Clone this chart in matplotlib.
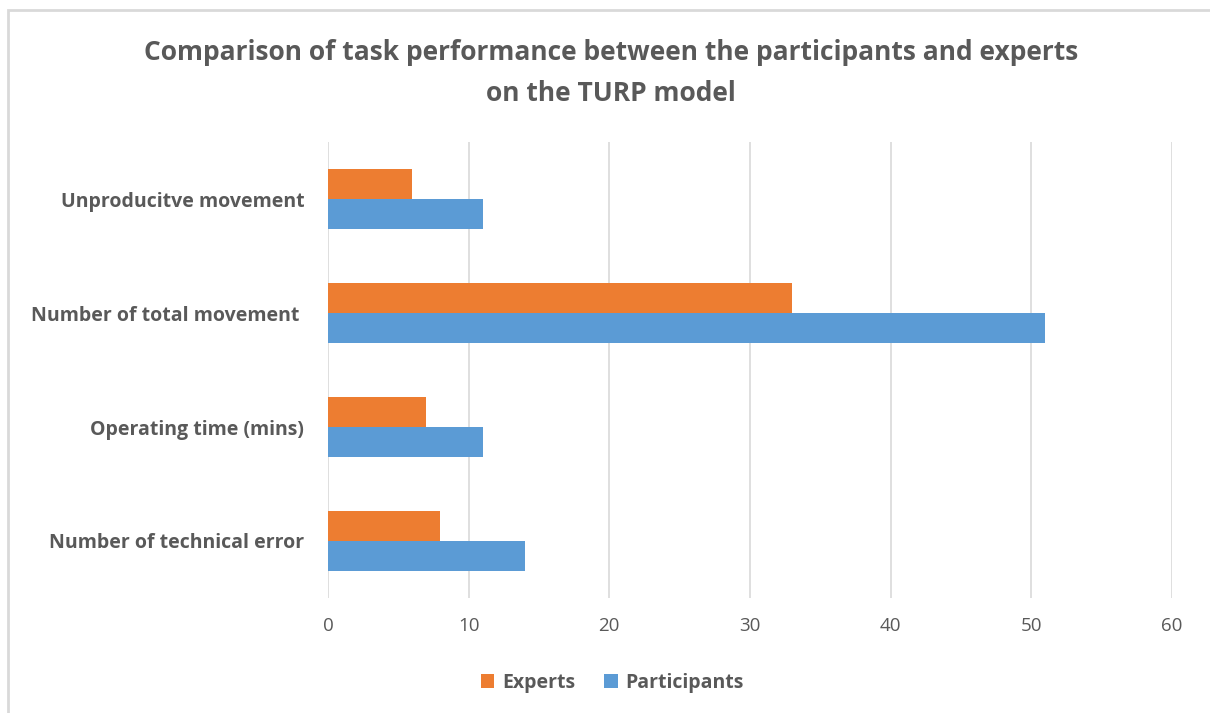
import numpy as np
import matplotlib.pyplot as plt
from matplotlib.patches import Rectangle

# data, bottom to top as drawn
categories = ["Number of technical error", "Operating time (mins)",
              "Number of total movement ", "Unproducitve movement"]
experts = [8, 7, 33, 6]
participants = [14, 11, 51, 11]

orange = "#ED7D31"
blue = "#5B9BD5"
grey = "#595959"

plt.rcParams['font.family'] = ['Open Sans', 'DejaVu Sans']

fig = plt.figure(figsize=(12.1, 7.13), dpi=100)
ax = fig.add_axes([0.271, 0.1613, 0.6976, 0.6395])

y = np.arange(len(categories))
h = 0.26
ax.barh(y + h / 2, experts, height=h, color=orange, label="Experts", zorder=3)
ax.barh(y - h / 2, participants, height=h, color=blue, label="Participants", zorder=3)

ax.set_xlim(0, 60)
ax.set_ylim(-0.5, len(categories) - 0.5)
ax.set_xticks(range(0, 61, 10))
ax.set_yticks(y)
ax.set_yticklabels(categories, fontsize=14, fontweight="bold", color=grey)
ax.tick_params(axis="x", labelsize=13.5, colors=grey, length=0, pad=14)
ax.tick_params(axis="y", length=0, pad=17)
ax.grid(axis="x", color="#D9D9D9", lw=1.2, zorder=0)
for s in ax.spines.values():
    s.set_visible(False)

fig.suptitle("Comparison of task performance between the participants and experts\non the TURP model",
             x=0.505, y=0.945, fontsize=19, fontweight="bold", color=grey, linespacing=1.65)

leg = fig.legend(loc="center", bbox_to_anchor=(0.506, 0.042), ncol=2, frameon=False,
                 prop={"size": 14, "weight": "bold"}, handlelength=0.7, handleheight=0.7,
                 columnspacing=1.5, handletextpad=0.4)
for t in leg.get_texts():
    t.set_color(grey)

# outer chart border
fig.patches.append(Rectangle((0.007, -0.01), 1.1, 0.996, transform=fig.transFigure,
                             fill=False, edgecolor="#D9D9D9", lw=2))

fig.savefig("out.png", dpi=100)
